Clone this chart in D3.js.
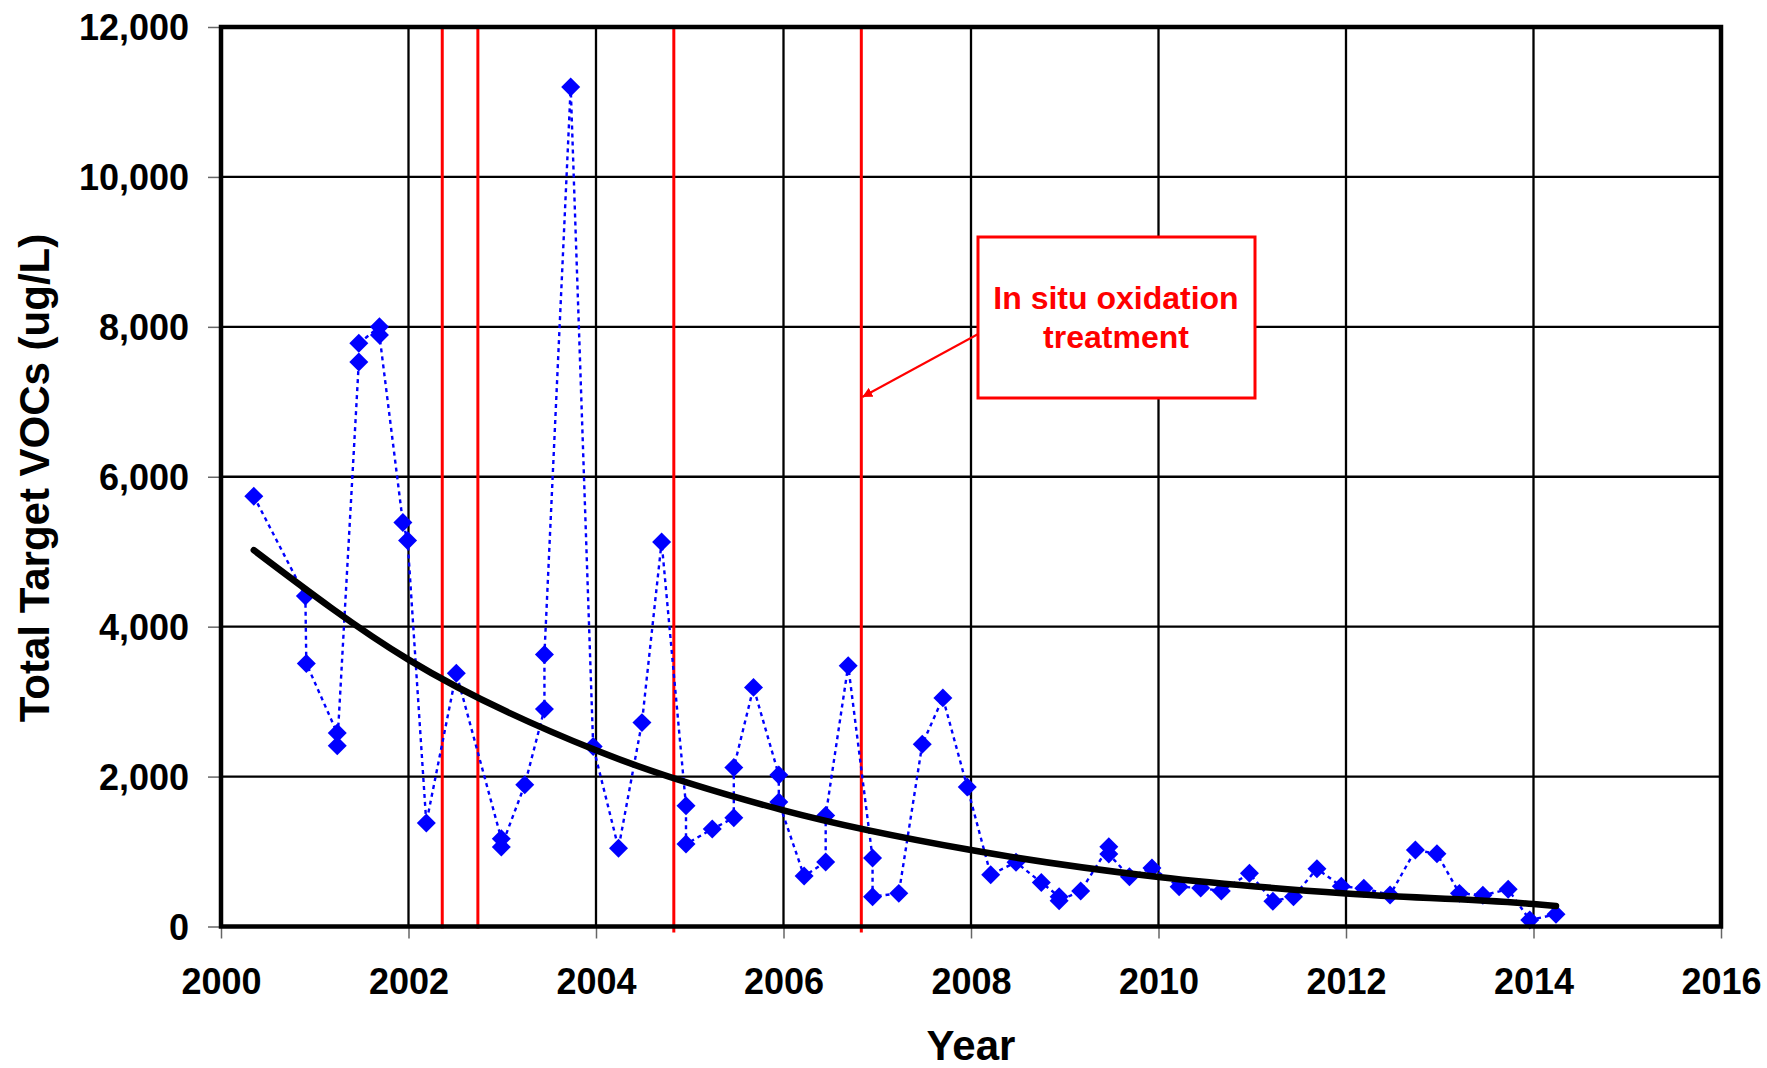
<!DOCTYPE html>
<html>
<head>
<meta charset="utf-8">
<script src="https://cdn.jsdelivr.net/npm/d3@7"></script>
<style>
  body { margin: 0; background: #fff; }
  svg text { font-family: "Liberation Sans", Arial, sans-serif; font-weight: bold; }
</style>
</head>
<body>
<div id="chart"></div>
<script>
// sampling dates (decimal years) and total target VOCs (ug/L)
var sampleYear = [2000.35, 2000.90, 2000.91, 2001.24, 2001.24, 2001.47, 2001.47, 2001.69, 2001.69, 2001.94,
    2001.99, 2002.19, 2002.51, 2002.99, 2002.99, 2003.24, 2003.45, 2003.45, 2003.73, 2003.97,
    2004.24, 2004.49, 2004.70, 2004.96, 2004.96, 2005.24, 2005.47, 2005.47, 2005.68, 2005.95,
    2005.95, 2006.22, 2006.45, 2006.45, 2006.69, 2006.95, 2006.95, 2007.23, 2007.48, 2007.70,
    2007.96, 2008.21, 2008.48, 2008.75, 2008.94, 2008.94, 2009.17, 2009.47, 2009.47, 2009.69,
    2009.93, 2010.22, 2010.45, 2010.67, 2010.97, 2011.22, 2011.44, 2011.69, 2011.95, 2012.19,
    2012.47, 2012.74, 2012.97, 2013.21, 2013.46, 2013.73, 2013.96, 2014.24];
var totalVOC = [5740, 4410, 3510, 2580, 2410, 7530, 7780, 8000, 7890, 5390,
    5150, 1380, 3380, 1170, 1060, 1890, 2900, 3630, 11200, 2400,
    1045, 2720, 5130, 1610, 1100, 1300, 1450, 2120, 3190, 2020,
    1660, 673, 860, 1480, 3480, 913, 398, 442, 2430, 3050,
    1860, 690, 858, 587, 398, 345, 473, 1064, 967, 664,
    780, 531, 513, 473, 709, 336, 398, 771, 536, 509,
    420, 1020, 971, 442, 416, 496, 87, 162];

// exponential trend line
var trendYear = [2000.35, 2002, 2004, 2006, 2008, 2010, 2012, 2014, 2014.24];
var trendValue = [5020, 3560, 2350, 1550, 1020, 660, 440, 300, 273];

// in situ oxidation treatment events
var treatmentYear = [2002.36, 2002.74, 2004.83, 2006.83];

var xTicks = [2000, 2002, 2004, 2006, 2008, 2010, 2012, 2014, 2016];
var yTicks = [0, 2000, 4000, 6000, 8000, 10000, 12000];

var width = 1767, height = 1068;
var plotLeft = 221, plotRight = 1721, plotTop = 27, plotBottom = 926.5;

var x = d3.scaleLinear().domain([2000, 2016]).range([plotLeft, plotRight]);
var y = d3.scaleLinear().domain([0, 12000]).range([plotBottom, plotTop]);

var svg = d3.select("#chart").append("svg").attr("width", width).attr("height", height);

// grid
svg.append("g").selectAll("line").data(yTicks).enter().append("line")
    .attr("x1", plotLeft).attr("x2", plotRight)
    .attr("y1", function(d) { return y(d); }).attr("y2", function(d) { return y(d); })
    .attr("stroke", "#000").attr("stroke-width", 2.3);
svg.append("g").selectAll("line").data(xTicks).enter().append("line")
    .attr("x1", function(d) { return x(d); }).attr("x2", function(d) { return x(d); })
    .attr("y1", plotTop).attr("y2", plotBottom)
    .attr("stroke", "#000").attr("stroke-width", 2.3);

// axes (small outside ticks + labels)
var yAxis = svg.append("g").attr("transform", "translate(" + plotLeft + ",0)")
    .call(d3.axisLeft(y).tickValues(yTicks).tickFormat(d3.format(",")).tickSize(13).tickPadding(19));
var xAxis = svg.append("g").attr("transform", "translate(0," + plotBottom + ")")
    .call(d3.axisBottom(x).tickValues(xTicks).tickFormat(d3.format("d")).tickSize(12).tickPadding(30));
[yAxis, xAxis].forEach(function(a) {
    a.select(".domain").remove();
    a.selectAll(".tick line").attr("stroke", "#666").attr("stroke-width", 1.5);
    a.selectAll("text").attr("font-size", 36).attr("fill", "#000");
});
yAxis.selectAll("text").attr("dy", "0.36em");
xAxis.selectAll("text").attr("dy", "0.71em");

// treatment lines
svg.append("g").selectAll("line").data(treatmentYear).enter().append("line")
    .attr("x1", function(d) { return x(d); }).attr("x2", function(d) { return x(d); })
    .attr("y1", plotTop).attr("y2", function(d, i) { return i < 2 ? plotBottom + 2 : plotBottom + 6; })
    .attr("stroke", "#ff0000").attr("stroke-width", 3);

var pts = sampleYear.map(function(d, i) { return [d, totalVOC[i]]; });

// dotted connecting line
svg.append("path").datum(pts)
    .attr("d", d3.line().x(function(d) { return x(d[0]); }).y(function(d) { return y(d[1]); }))
    .attr("fill", "none").attr("stroke", "#0000ff").attr("stroke-width", 2.4)
    .attr("stroke-dasharray", "4,4");

// diamonds
svg.append("g").selectAll("path").data(pts).enter().append("path")
    .attr("d", d3.symbol().type(d3.symbolSquare).size(180))
    .attr("transform", function(d) { return "translate(" + x(d[0]) + "," + y(d[1]) + ") rotate(45)"; })
    .attr("fill", "#0000ff");

// trend line
var trend = trendYear.map(function(d, i) { return [d, trendValue[i]]; });
svg.append("path").datum(trend)
    .attr("d", d3.line().curve(d3.curveMonotoneX).x(function(d) { return x(d[0]); }).y(function(d) { return y(d[1]); }))
    .attr("fill", "none").attr("stroke", "#000").attr("stroke-width", 6.5).attr("stroke-linecap", "round");

// frame
svg.append("rect").attr("x", plotLeft).attr("y", plotTop)
    .attr("width", plotRight - plotLeft).attr("height", plotBottom - plotTop)
    .attr("fill", "none").attr("stroke", "#000").attr("stroke-width", 4.5);

// annotation
svg.append("defs").append("marker").attr("id", "arrow")
    .attr("viewBox", "0 0 10 10").attr("refX", 10).attr("refY", 5)
    .attr("markerWidth", 5).attr("markerHeight", 5).attr("markerUnits", "strokeWidth")
    .attr("orient", "auto")
    .append("path").attr("d", "M0,0 L10,5 L0,10 z").attr("fill", "#ff0000");
svg.append("line").attr("x1", 980).attr("y1", 333).attr("x2", x(treatmentYear[3]) + 1).attr("y2", 397)
    .attr("stroke", "#ff0000").attr("stroke-width", 2).attr("marker-end", "url(#arrow)");
svg.append("rect").attr("x", 978).attr("y", 237).attr("width", 277).attr("height", 161)
    .attr("fill", "#fff").attr("stroke", "#ff0000").attr("stroke-width", 3);
var note = svg.append("text").attr("x", 1116).attr("text-anchor", "middle")
    .attr("font-size", 32).attr("fill", "#ff0000");
note.append("tspan").attr("x", 1116).attr("y", 309).text("In situ oxidation");
note.append("tspan").attr("x", 1116).attr("y", 348).text("treatment");

// axis titles
svg.append("text").attr("x", (plotLeft + plotRight) / 2).attr("y", 1060).attr("text-anchor", "middle")
    .attr("font-size", 42).text("Year");
svg.append("text").attr("transform", "translate(49,478) rotate(-90)").attr("text-anchor", "middle")
    .attr("font-size", 42).text("Total Target VOCs (ug/L)");
</script>
</body>
</html>
